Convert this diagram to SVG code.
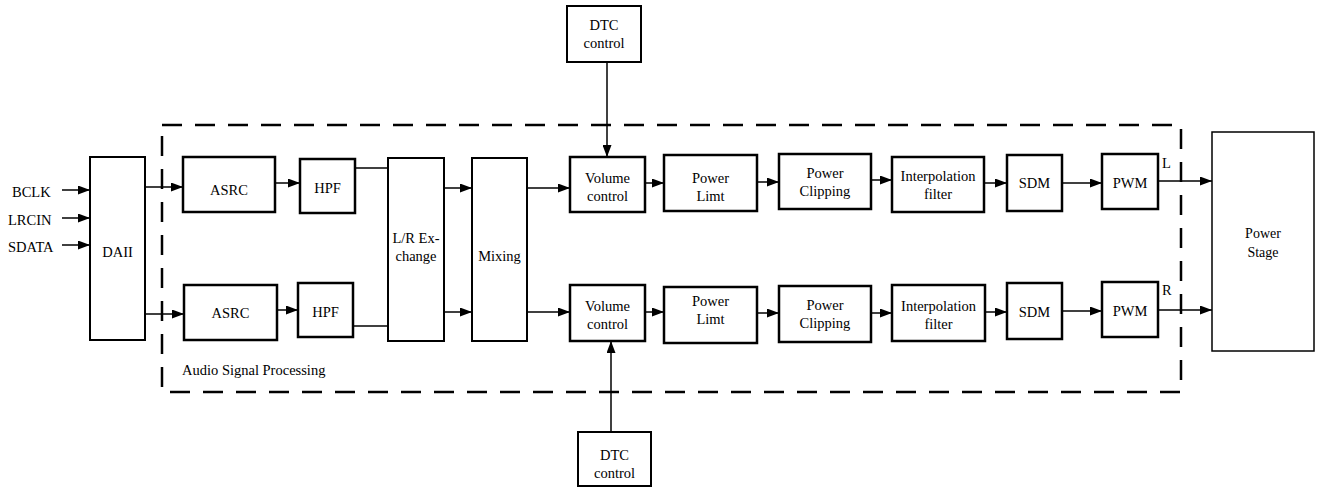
<svg xmlns="http://www.w3.org/2000/svg" width="1319" height="488" viewBox="0 0 1319 488">
<style>
text{font-family:"Liberation Serif","Times New Roman",serif;font-size:14.5px;fill:#000;text-anchor:middle}
.b{fill:#fff;stroke:#000;stroke-width:2.5}
.ps{fill:#fff;stroke:#000;stroke-width:1.5}
.c{stroke:#000;stroke-width:1.5;fill:none}
.a{marker-end:url(#ah)}
.dash{fill:none;stroke:#000;stroke-width:2.5;stroke-dasharray:20 13}
.l{text-anchor:start}
</style>
<defs>
<marker id="ah" markerUnits="userSpaceOnUse" markerWidth="13" markerHeight="9" refX="12" refY="4.5" orient="auto">
<path d="M0,0 L12,4.5 L0,9 z" fill="#000"/>
</marker>
</defs>
<rect class="dash" x="162" y="125" width="1019" height="267"/>
<text class="l" x="182" y="375">Audio Signal Processing</text>
<g id="inputs">
<text class="l" x="12" y="197">BCLK</text>
<text class="l" x="8" y="225">LRCIN</text>
<text class="l" x="8" y="252">SDATA</text>
</g>
<g id="connectors">
<line class="c a" x1="62" y1="190" x2="90" y2="190"/>
<line class="c a" x1="62" y1="218" x2="90" y2="218"/>
<line class="c a" x1="62" y1="245" x2="90" y2="245"/>
<line class="c a" x1="145" y1="187" x2="183" y2="187"/>
<line class="c a" x1="145" y1="314" x2="184" y2="314"/>
<line class="c a" x1="275" y1="183" x2="300" y2="183"/>
<line class="c a" x1="277" y1="310" x2="298" y2="310"/>
<line class="c" x1="355" y1="168" x2="388" y2="168"/>
<line class="c" x1="353" y1="326" x2="388" y2="326"/>
<line class="c a" x1="444" y1="188" x2="472" y2="188"/>
<line class="c a" x1="444" y1="312" x2="472" y2="312"/>
<line class="c a" x1="527" y1="188" x2="570" y2="188"/>
<line class="c a" x1="527" y1="312" x2="570" y2="312"/>
<line class="c a" x1="645" y1="183" x2="664" y2="183"/>
<line class="c a" x1="645" y1="312" x2="664" y2="312"/>
<line class="c a" x1="757" y1="182" x2="779" y2="182"/>
<line class="c a" x1="757" y1="313" x2="779" y2="313"/>
<line class="c a" x1="871" y1="180" x2="892" y2="180"/>
<line class="c a" x1="871" y1="313" x2="892" y2="313"/>
<line class="c a" x1="984" y1="183" x2="1007" y2="183"/>
<line class="c a" x1="985" y1="312" x2="1007" y2="312"/>
<line class="c a" x1="1062" y1="183" x2="1102" y2="183"/>
<line class="c a" x1="1062" y1="311" x2="1102" y2="311"/>
<line class="c a" x1="1158" y1="181" x2="1212" y2="181"/>
<line class="c a" x1="1158" y1="310" x2="1212" y2="310"/>
<line class="c a" x1="607" y1="62" x2="607" y2="157"/>
<line class="c a" x1="611" y1="432" x2="611" y2="341"/>
<text class="l" x="1162" y="168">L</text>
<text class="l" x="1162" y="295">R</text>
</g>
<g id="daii"><rect class="b" x="90" y="157" width="55" height="183" style="stroke-width:2"/><text x="117.5" y="257">DAII</text></g>
<g id="asrc1"><rect class="b" x="183" y="157" width="92" height="55"/><text x="229" y="195">ASRC</text></g>
<g id="asrc2"><rect class="b" x="184" y="285" width="93" height="55"/><text x="230.5" y="318">ASRC</text></g>
<g id="hpf1"><rect class="b" x="300" y="159" width="55" height="54"/><text x="327.5" y="193">HPF</text></g>
<g id="hpf2"><rect class="b" x="298" y="283" width="55" height="54"/><text x="325.5" y="317">HPF</text></g>
<g id="lr"><rect class="b" x="388" y="158" width="56" height="183" style="stroke-width:2"/><text x="416" y="243">L/R Ex-</text><text x="416" y="261">change</text></g>
<g id="mixing"><rect class="b" x="472" y="158" width="55" height="183" style="stroke-width:2"/><text x="499.5" y="261">Mixing</text></g>
<g id="vol1"><rect class="b" x="570" y="157" width="75" height="55"/><text x="607.5" y="183">Volume</text><text x="607.5" y="201">control</text></g>
<g id="vol2"><rect class="b" x="570" y="285" width="75" height="56"/><text x="607.5" y="311">Volume</text><text x="607.5" y="329">control</text></g>
<g id="pl1"><rect class="b" x="664" y="155" width="93" height="56"/><text x="710.5" y="183">Power</text><text x="710.5" y="201">Limt</text></g>
<g id="pl2"><rect class="b" x="664" y="287" width="93" height="56"/><text x="710.5" y="306">Power</text><text x="710.5" y="324">Limt</text></g>
<g id="pc1"><rect class="b" x="779" y="154" width="92" height="55"/><text x="825" y="178">Power</text><text x="825" y="196">Clipping</text></g>
<g id="pc2"><rect class="b" x="779" y="286" width="92" height="56"/><text x="825" y="310">Power</text><text x="825" y="328">Clipping</text></g>
<g id="ip1"><rect class="b" x="892" y="157" width="92" height="55"/><text x="938" y="181">Interpolation</text><text x="938" y="199">filter</text></g>
<g id="ip2"><rect class="b" x="892" y="285" width="93" height="56"/><text x="938.5" y="311">Interpolation</text><text x="938.5" y="329">filter</text></g>
<g id="sdm1"><rect class="b" x="1007" y="155" width="55" height="56"/><text x="1034.5" y="188">SDM</text></g>
<g id="sdm2"><rect class="b" x="1007" y="283" width="55" height="56"/><text x="1034.5" y="317">SDM</text></g>
<g id="pwm1"><rect class="b" x="1102" y="154" width="56" height="55"/><text x="1130" y="188">PWM</text></g>
<g id="pwm2"><rect class="b" x="1102" y="282" width="56" height="55"/><text x="1130" y="316">PWM</text></g>
<g id="powerstage"><rect class="ps" x="1212" y="132" width="102" height="219"/><text x="1263" y="238" style="font-size:14px">Power</text><text x="1263" y="257" style="font-size:14px">Stage</text></g>
<g id="dtc1"><rect class="b" x="567" y="6" width="74" height="56" style="stroke-width:2"/><text x="604" y="30">DTC</text><text x="604" y="48">control</text></g>
<g id="dtc2"><rect class="b" x="578" y="432" width="73" height="54" style="stroke-width:2"/><text x="614.5" y="460">DTC</text><text x="614.5" y="478">control</text></g>
</svg>
